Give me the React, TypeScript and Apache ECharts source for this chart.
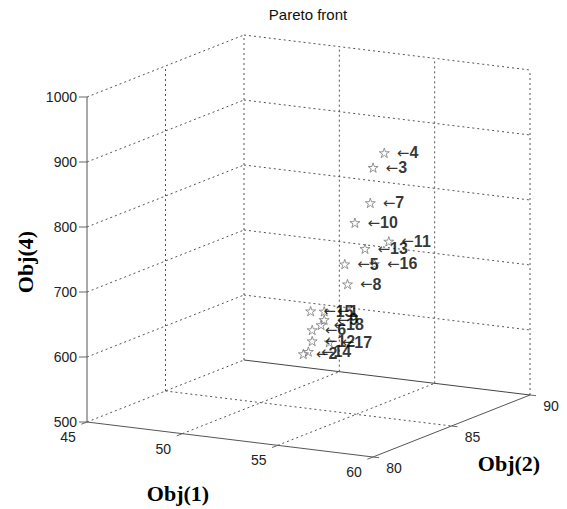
import React, { useEffect, useRef } from "react";
import * as echarts from "echarts";

// ---- data ----
const obj1Ticks = [45, 50, 55, 60];
const obj2Ticks = [80, 85, 90];
const obj4Ticks = [500, 600, 700, 800, 900, 1000];

const pointLabels = ["1", "2", "3", "4", "5", "6", "7", "8", "9", "10", "11", "12", "13", "14", "15", "16", "17", "18"];
const obj1Values = [52.5, 51.9, 56.3, 57.3, 54.4, 52.2, 56.4, 54.3, 52.5, 55.1, 56.3, 52.2, 55.3, 52.0, 52.2, 55.3, 52.6, 52.5];
const obj2Values = [86.0, 85.4, 84.5, 84.0, 85.0, 85.6, 84.2, 85.3, 86.0, 84.8, 85.5, 85.6, 85.2, 85.6, 85.5, 85.8, 86.2, 85.8];
const obj4Values = [640, 578, 889, 920, 729, 614, 838, 695, 627, 797, 766, 597, 754, 580, 644, 725, 591, 621];

const titleText = "Pareto front";
const axisTitles = ["Obj(1)", "Obj(2)", "Obj(4)"];

// ---- view (screen-projected edges of the axes box, in px) ----
const VIEW = { ex: [286, -35], ey: [157, 62], ez: [0, 325] };
const X0 = obj1Ticks[0], X1 = obj1Ticks[obj1Ticks.length - 1];
const Y0 = obj2Ticks[0], Y1 = obj2Ticks[obj2Ticks.length - 1];
const Z0 = obj4Ticks[0], Z1 = obj4Ticks[obj4Ticks.length - 1];

function project(a: number, b: number, c: number): [number, number] {
  const nx = (a - X0) / (X1 - X0);
  const ny = (b - Y0) / (Y1 - Y0);
  const nz = (c - Z0) / (Z1 - Z0);
  return [
    nx * VIEW.ex[0] + ny * VIEW.ey[0] + nz * VIEW.ez[0],
    nx * VIEW.ex[1] + ny * VIEW.ey[1] + nz * VIEW.ez[1],
  ];
}

type P3 = [number, number, number];
type Seg = { p: P3; q: P3; kind: "axis" | "grid" | "edge" };

function buildSegments(): Seg[] {
  const s: Seg[] = [];
  s.push({ p: [X0, Y0, Z0], q: [X1, Y0, Z0], kind: "axis" });
  s.push({ p: [X1, Y0, Z0], q: [X1, Y1, Z0], kind: "axis" });
  s.push({ p: [X0, Y0, Z0], q: [X0, Y0, Z1], kind: "axis" });
  s.push({ p: [X0, Y1, Z0], q: [X1, Y1, Z0], kind: "edge" });
  obj4Ticks.forEach((z) => {
    if (z === Z0) return;
    s.push({ p: [X0, Y0, z], q: [X0, Y1, z], kind: "grid" });
    s.push({ p: [X0, Y1, z], q: [X1, Y1, z], kind: "grid" });
  });
  obj2Ticks.forEach((y) => {
    if (y === Y0 || y === Y1) return;
    s.push({ p: [X0, y, Z0], q: [X0, y, Z1], kind: "grid" });
  });
  obj1Ticks.forEach((x) => {
    s.push({ p: [x, Y1, Z0], q: [x, Y1, Z1], kind: "grid" });
  });
  obj1Ticks.forEach((x) => {
    if (x === X1) return;
    s.push({ p: [x, Y0, Z0], q: [x, Y1, Z0], kind: "grid" });
  });
  obj2Ticks.forEach((y) => {
    if (y === Y0 || y === Y1) return;
    s.push({ p: [X0, y, Z0], q: [X1, y, Z0], kind: "grid" });
  });
  return s;
}

type TickItem = { at: P3; text: string; axis: 0 | 1 | 2 };
function buildTicks(): TickItem[] {
  const t: TickItem[] = [];
  obj1Ticks.forEach((x) => t.push({ at: [x, Y0, Z0], text: String(x), axis: 0 }));
  obj2Ticks.forEach((y) => t.push({ at: [X1, y, Z0], text: String(y), axis: 1 }));
  obj4Ticks.forEach((z) => t.push({ at: [X0, Y0, z], text: String(z), axis: 2 }));
  return t;
}

function starPath(): string {
  let d = "";
  for (let k = 0; k < 10; k++) {
    const r = k % 2 === 0 ? 1 : 0.382;
    const a = ((-90 + k * 36) * Math.PI) / 180;
    d += (k ? "L" : "M") + (r * Math.cos(a)).toFixed(3) + " " + (r * Math.sin(a)).toFixed(3);
  }
  return "path://" + d + "Z";
}

const SANS = "'Liberation Sans', Arial, Helvetica, sans-serif";
const SERIF = "'Liberation Serif', 'Times New Roman', serif";

export default function App() {
  const ref = useRef<HTMLDivElement>(null);
  useEffect(() => {
    if (!ref.current) return;
    const chart = echarts.init(ref.current, undefined, { renderer: "svg" });
    const segs = buildSegments();
    const ticks = buildTicks();
    const uMax = VIEW.ex[0] + VIEW.ey[0];
    const vMin = VIEW.ex[1];
    const vMax = VIEW.ey[1] + VIEW.ez[1];

    chart.setOption({
      animation: false,
      backgroundColor: "#ffffff",
      grid: { left: 87, top: 35, width: uMax, height: vMax - vMin },
      xAxis: { type: "value", min: 0, max: uMax, show: false },
      yAxis: { type: "value", min: vMin, max: vMax, show: false },
      graphic: [
        {
          type: "text", x: 308, y: 14,
          style: { text: titleText, fill: "#111", font: `15px ${SANS}`, align: "center", verticalAlign: "middle" },
        },
        {
          type: "text", x: 178, y: 493,
          style: { text: axisTitles[0], fill: "#000", font: `bold 22px ${SERIF}`, align: "center", verticalAlign: "middle" },
        },
        {
          type: "text", x: 509, y: 463,
          style: { text: axisTitles[1], fill: "#000", font: `bold 22px ${SERIF}`, align: "center", verticalAlign: "middle" },
        },
        {
          type: "text", x: 25, y: 262, rotation: Math.PI / 2,
          style: { text: axisTitles[2], fill: "#000", font: `bold 22px ${SERIF}`, align: "center", verticalAlign: "middle" },
        },
      ],
      series: [
        {
          type: "custom",
          silent: true,
          z: 1,
          data: segs.map((_, i) => [i]),
          renderItem: (params: any, api: any) => {
            const s = segs[params.dataIndex];
            const a = api.coord(project(s.p[0], s.p[1], s.p[2]));
            const b = api.coord(project(s.q[0], s.q[1], s.q[2]));
            const style: any =
              s.kind === "grid"
                ? { stroke: "#555", lineWidth: 1, lineDash: [2, 3] }
                : s.kind === "edge"
                ? { stroke: "#444", lineWidth: 1 }
                : { stroke: "#555", lineWidth: 1 };
            return { type: "line", shape: { x1: a[0], y1: a[1], x2: b[0], y2: b[1] }, style };
          },
        },
        {
          type: "custom",
          silent: true,
          z: 2,
          data: ticks.map((_, i) => [i]),
          renderItem: (params: any, api: any) => {
            const t = ticks[params.dataIndex];
            const a = api.coord(project(t.at[0], t.at[1], t.at[2]));
            let tick: number[];
            let tx: number, ty: number, align: string;
            if (t.axis === 2) {
              tick = [-8, 0]; tx = a[0] - 10; ty = a[1]; align = "right";
            } else if (t.axis === 0) {
              tick = [-5.6, 2.2]; tx = a[0] - 19; ty = a[1] + 15; align = "center";
            } else {
              tick = [6, 0.7]; tx = a[0] + 21; ty = a[1] + 11; align = "center";
            }
            return {
              type: "group",
              children: [
                {
                  type: "line",
                  shape: { x1: a[0], y1: a[1], x2: a[0] + tick[0], y2: a[1] + tick[1] },
                  style: { stroke: "#666", lineWidth: 1 },
                },
                {
                  type: "text", x: tx, y: ty,
                  style: { text: t.text, fill: "#222", font: `14px ${SANS}`, align, verticalAlign: "middle" },
                },
              ],
            };
          },
        },
        {
          type: "scatter",
          silent: true,
          z: 5,
          symbol: starPath(),
          symbolSize: 10,
          symbolKeepAspect: true,
          itemStyle: { color: "rgba(0,0,0,0)", borderColor: "#7a7a7a", borderWidth: 1 },
          label: {
            show: true,
            position: "right",
            distance: 7,
            formatter: (p: any) => "{a|\u2190}{b|" + p.name + "}",
            rich: {
              a: { fontFamily: "'DejaVu Sans', sans-serif", fontSize: 15, fontWeight: "normal", color: "#000" },
              b: { fontFamily: SANS, fontSize: 16, fontWeight: "bold", color: "#000" },
            },
          },
          data: pointLabels.map((n, i) => ({
            name: n,
            value: project(obj1Values[i], obj2Values[i], obj4Values[i]),
          })),
        },
      ],
    });
    return () => chart.dispose();
  }, []);
  return (
    <div
      ref={ref}
      style={{ position: "fixed", left: 0, top: 0, width: 567, height: 509, background: "#fff" }}
    />
  );
}
